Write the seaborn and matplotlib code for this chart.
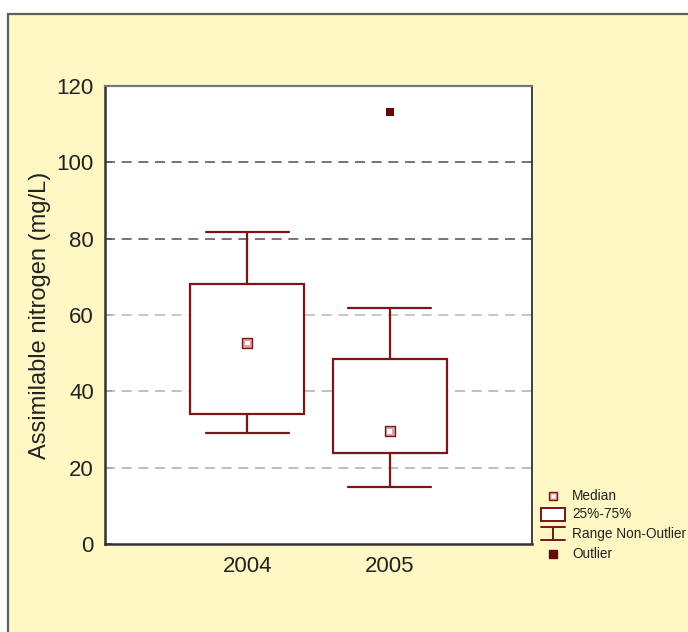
import numpy as np
import matplotlib
matplotlib.use("Agg")
import matplotlib.pyplot as plt
from matplotlib.patches import Rectangle
import seaborn as sns

# ---- data ----
years = ["2004", "2005"]
whisker_low = [29.1, 14.9]
q1 = [34.0, 23.8]
median = [52.6, 29.5]
q3 = [68.1, 48.5]
whisker_high = [81.8, 61.8]
outliers = [[], [113.2]]

y_ticks = [0, 20, 40, 60, 80, 100, 120]

dark_red = "#7a1518"
out_red = "#650a0a"
yellow = "#fff8c4"

sns.set_theme(style="white")
plt.rcParams["font.family"] = ["Liberation Sans", "DejaVu Sans"]

fig = plt.figure(figsize=(6.88, 6.32), dpi=100, facecolor="white")

# yellow panel with gray frame (top and left edges visible)
fig.patches.append(Rectangle((8 / 688, -0.05), 1.2, (1 - 14 / 632) + 0.05,
                             transform=fig.transFigure, facecolor=yellow,
                             edgecolor="#5e5e5e", linewidth=1.6, zorder=-10))

ax = fig.add_axes([105 / 688, 1 - 544 / 632, 427 / 688, 458 / 632])
ax.set_facecolor("white")

pos = np.arange(len(years))
stats = []
for i in range(len(years)):
    stats.append(dict(med=median[i], q1=q1[i], q3=q3[i],
                      whislo=whisker_low[i], whishi=whisker_high[i],
                      fliers=[], label=years[i]))

# dashed grid lines (lighter low, darker high)
grid_cols = {20: "#b4b4b4", 40: "#b4b4b4", 60: "#bcbcbc", 80: "#5c5c5c", 100: "#5c5c5c"}
for yv, c in grid_cols.items():
    ax.axhline(yv, color=c, linestyle=(0, (6, 4)), linewidth=1.2, zorder=1)

ax.bxp(stats, positions=pos, widths=0.8, capwidths=0.58, patch_artist=True,
       showfliers=False, manage_ticks=False,
       boxprops=dict(facecolor="white", edgecolor=dark_red, linewidth=1.6),
       whiskerprops=dict(color=dark_red, linewidth=1.6),
       capprops=dict(color=dark_red, linewidth=1.6),
       medianprops=dict(linestyle="none"), zorder=3)

# medians as small squares
med_x = pos
sns.scatterplot(x=med_x, y=median, marker="s", s=42, color="#dca5a5",
                edgecolor=dark_red, linewidth=1.0, ax=ax, zorder=5, legend=False)
sns.scatterplot(x=med_x, y=median, marker="s", s=10, color="white",
                edgecolor="none", linewidth=0, ax=ax, zorder=6, legend=False)

# outliers
ox, oy = [], []
for i, vals in enumerate(outliers):
    for v in vals:
        ox.append(pos[i])
        oy.append(v)
sns.scatterplot(x=ox, y=oy, marker="s", s=40, color=out_red, edgecolor=out_red,
                linewidth=0, ax=ax, zorder=5, legend=False)

ax.set_xlim(-1, 2)
ax.set_ylim(0, 120)
ax.set_yticks(y_ticks)
ax.set_yticklabels([str(t) for t in y_ticks], fontsize=16, color="#222222")
ax.set_xticks(pos)
ax.set_xticklabels(years, fontsize=16, color="#222222")
ax.tick_params(axis="y", direction="in", length=5, width=1.2, color="#555555",
               pad=8, left=True)
ax.tick_params(axis="x", length=0, pad=9)
ax.set_ylabel("Assimilable nitrogen (mg/L)", fontsize=17, color="#222222", labelpad=4)

for side in ["left", "bottom"]:
    ax.spines[side].set_color("#333333")
    ax.spines[side].set_linewidth(1.8)
ax.spines["top"].set_color("#777777")
ax.spines["top"].set_linewidth(1.6)
ax.spines["right"].set_color("#222222")
ax.spines["right"].set_linewidth(1.2)

# legend drawn in pixel-based figure coordinates
lg = fig.add_axes([0, 0, 1, 1], facecolor="none")
lg.set_xlim(0, 688)
lg.set_ylim(632, 0)
lg.axis("off")
lg.plot([553], [496], marker="s", markersize=6, markerfacecolor="#dca5a5",
        markeredgecolor=dark_red, markeredgewidth=1.0, linestyle="none")
lg.plot([553], [496], marker="s", markersize=2.5, markerfacecolor="white",
        markeredgecolor="none", linestyle="none")
lg.add_patch(Rectangle((541, 508), 24, 13, facecolor="white",
                       edgecolor=dark_red, linewidth=1.4))
lg.plot([541, 565], [527, 527], color=dark_red, linewidth=1.4)
lg.plot([553, 553], [527, 540], color=dark_red, linewidth=1.4)
lg.plot([541, 565], [540, 540], color=dark_red, linewidth=1.4)
lg.plot([553], [554], marker="s", markersize=5.5, markerfacecolor=out_red,
        markeredgecolor=out_red, linestyle="none")
for yy, txt in zip([496, 514, 534, 554], ["Median", "25%-75%", "Range Non-Outlier", "Outlier"]):
    lg.text(572, yy, txt, fontsize=9.8, va="center", ha="left", color="#222222")

fig.savefig("out.png", dpi=100, facecolor="white")
